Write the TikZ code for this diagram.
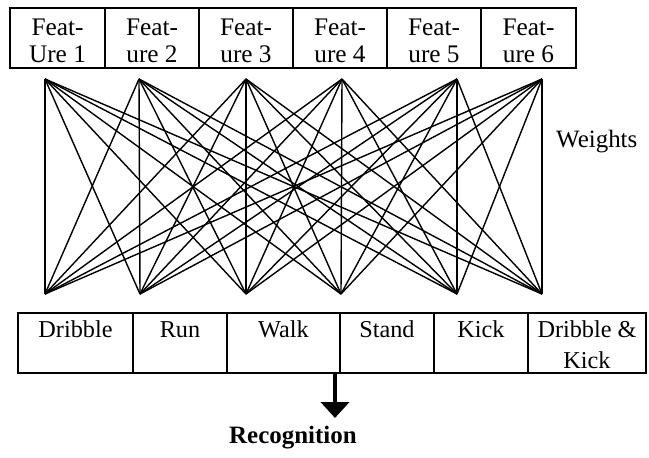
\documentclass[tikz,border=0pt]{standalone}
\usepackage{fontspec}
\setmainfont{Liberation Serif}
\usepackage{tikz}
\usetikzlibrary{arrows.meta}

\tikzset{
  feat/.style={anchor=north, inner sep=0pt, align=center, font=\fontsize{14.4}{15.2}\selectfont},
  act/.style={anchor=north, inner sep=0pt, align=center, font=\fontsize{13.8}{17.4}\selectfont},
  cell/.style={line width=1pt},
  weight/.style={line width=0.8pt}
}

\begin{document}
\begin{tikzpicture}
\useasboundingbox (0,0) rectangle (12.98,9.14);

% feature row
\draw[cell] (0.20,8.98) rectangle (2.10,7.78);
\draw[cell] (2.10,8.98) rectangle (3.98,7.78);
\draw[cell] (3.98,8.98) rectangle (5.86,7.78);
\draw[cell] (5.86,8.98) rectangle (7.74,7.78);
\draw[cell] (7.74,8.98) rectangle (9.62,7.78);
\draw[cell] (9.62,8.98) rectangle (11.52,7.78);

\node[feat] (f1) at (1.15,8.77) {Feat-\\Ure 1};
\node[feat] (f2) at (3.04,8.77) {Feat-\\ure 2};
\node[feat] (f3) at (4.92,8.77) {Feat-\\ure 3};
\node[feat] (f4) at (6.80,8.77) {Feat-\\ure 4};
\node[feat] (f5) at (8.68,8.77) {Feat-\\ure 5};
\node[feat] (f6) at (10.57,8.77) {Feat-\\ure 6};

% weight end points
\coordinate (t1) at (0.90,7.56);
\coordinate (t2) at (2.78,7.56);
\coordinate (t3) at (4.92,7.56);
\coordinate (t4) at (6.84,7.56);
\coordinate (t5) at (9.14,7.56);
\coordinate (t6) at (10.84,7.56);

\coordinate (b1) at (0.90,3.26);
\coordinate (b2) at (2.80,3.26);
\coordinate (b3) at (4.92,3.26);
\coordinate (b4) at (6.82,3.26);
\coordinate (b5) at (9.14,3.26);
\coordinate (b6) at (10.84,3.26);

\foreach \i in {1,...,6}
  \foreach \j in {1,...,6}
    \draw[weight] (t\i) -- (b\j);

\node[anchor=base west, font=\fontsize{14.2}{15.2}\selectfont] (w) at (11.0,6.19) {Weights};

% activity row
\draw[cell] (0.36,2.88) rectangle (2.66,1.68);
\draw[cell] (2.66,2.88) rectangle (4.54,1.68);
\draw[cell] (4.54,2.88) rectangle (6.80,1.68);
\draw[cell] (6.80,2.88) rectangle (8.68,1.68);
\draw[cell] (8.68,2.88) rectangle (10.56,1.68);
\draw[cell] (10.56,2.88) rectangle (12.92,1.68);

\node[act] (a1) at (1.51,2.73) {Dribble};
\node[act] (a2) at (3.60,2.72) {Run};
\node[act] (a3) at (5.67,2.73) {Walk};
\node[act] (a4) at (7.74,2.73) {Stand};
\node[act] (a5) at (9.62,2.73) {Kick};
\node[act] (a6) at (11.74,2.73) {Dribble \&\\Kick};

\coordinate (out) at (6.70,1.68);
\coordinate (tip) at (6.70,0.78);
\draw[line width=2.3pt, -{Triangle[width=0.56cm,length=0.32cm]}] (out) -- (tip);

\node[anchor=base, font=\fontsize{14.2}{15.2}\selectfont\bfseries] (rec) at (5.86,0.28) {Recognition};
\end{tikzpicture}
\end{document}
